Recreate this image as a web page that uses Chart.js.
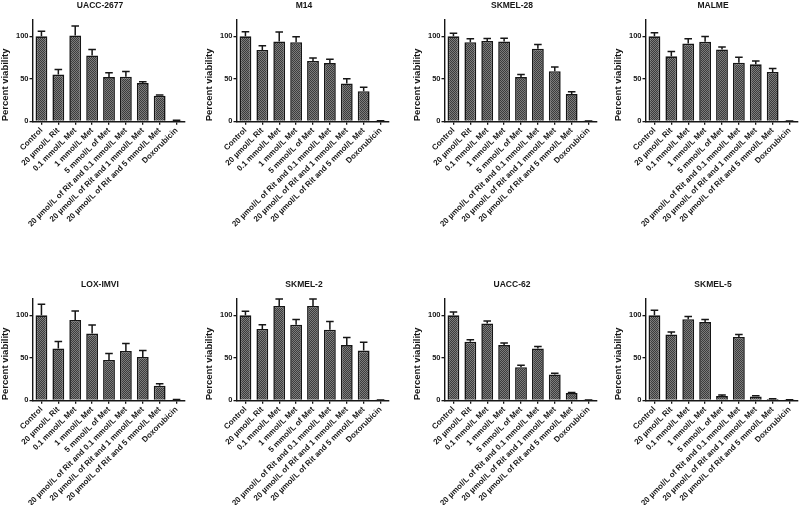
<!DOCTYPE html>
<html>
<head>
<meta charset="utf-8">
<script src="https://cdn.jsdelivr.net/npm/chart.js@4.4.1/dist/chart.umd.min.js"></script>
<style>
  html, body { margin: 0; padding: 0; background: #fff; overflow: hidden; }
  body { width: 800px; height: 505px; position: relative; }
  .panel { position: absolute; width: 200px; height: 250px; }
</style>
</head>
<body>
<div id="grid"></div>
<script>
/* ---------- DATA ---------- */
const TREATMENTS = [
  'Control',
  '20 µmol/L Rit',
  '0.1 mmol/L Met',
  '1 mmol/L Met',
  '5 mmol/L of Met',
  '20 µmol/L of Rit and 0.1 mmol/L Met',
  '20 µmol/L of Rit and 1 mmol/L Met',
  '20 µmol/L of Rit and 5 mmol/L Met',
  'Doxorubicin'
];
const Y_TICKS = [0, 50, 100];
const Y_MAX = 120;

const UACC2677     = [100, 55, 101, 77.5, 52, 52.5, 45, 30, 0.8];
const UACC2677_ERR = [6, 6, 11, 7, 5, 6, 1.5, 1, 0.4];
const M14          = [100, 84, 94, 93, 71, 68.5, 44.5, 35.5, 0.3];
const M14_ERR      = [5.5, 5, 11, 6.5, 3.5, 4.5, 5.5, 4.7, 0.3];
const SKMEL28      = [100, 93, 94.5, 94, 52, 85.5, 59, 32, 0.3];
const SKMEL28_ERR  = [3.5, 4, 3, 3.6, 3, 5, 5, 2.8, 0.2];
const MALME        = [100, 76.5, 91.5, 93.5, 84.5, 69, 67, 58, 0.3];
const MALME_ERR    = [4.3, 5.5, 5.5, 6.3, 3, 6.3, 4, 4, 0.2];
const LOXIMVI      = [100, 61, 94.5, 78.5, 47.5, 58, 51, 17, 0.6];
const LOXIMVI_ERR  = [13, 8.3, 10.5, 10, 7.5, 8.7, 7.5, 2.4, 0.4];
const SKMEL2       = [100, 84, 111, 89, 111, 83, 65, 58.5, 0.3];
const SKMEL2_ERR   = [4.7, 5, 8.2, 6, 8.2, 9.8, 9, 9.8, 0.2];
const UACC62       = [100, 69, 90.5, 65, 39, 61, 30.5, 8.5, 0.3];
const UACC62_ERR   = [3.9, 2.3, 2.7, 2.3, 2.3, 2.3, 1.2, 0.8, 0.2];
const SKMEL5       = [100, 77.5, 95.5, 92, 5, 74.5, 4.5, 1.5, 0.4];
const SKMEL5_ERR   = [5.9, 2.8, 3.1, 3.1, 1.2, 2.8, 0.8, 0.4, 0.2];

const PANELS = [
  { title: 'UACC-2677', mean: UACC2677, err: UACC2677_ERR },
  { title: 'M14',       mean: M14,      err: M14_ERR },
  { title: 'SKMEL-28',  mean: SKMEL28,  err: SKMEL28_ERR },
  { title: 'MALME',     mean: MALME,    err: MALME_ERR },
  { title: 'LOX-IMVI',  mean: LOXIMVI,  err: LOXIMVI_ERR },
  { title: 'SKMEL-2',   mean: SKMEL2,   err: SKMEL2_ERR },
  { title: 'UACC-62',   mean: UACC62,   err: UACC62_ERR },
  { title: 'SKMEL-5',   mean: SKMEL5,   err: SKMEL5_ERR }
];

/* ---------- LAYOUT / STYLE ---------- */
const PANEL_LEFT = [0, 204, 412, 613];
const PANEL_TOP  = [0, 279];
const INK  = '#161616';
const FONT = "'Liberation Sans', Arial, sans-serif";

// textured gray fill like the original bars
function makeHatch() {
  const c = document.createElement('canvas');
  c.width = 2; c.height = 2;
  const g = c.getContext('2d');
  g.fillStyle = '#7c7c7c';
  g.fillRect(0, 0, 2, 2);
  g.fillStyle = '#3c3c3c';
  g.fillRect(0, 0, 1, 1);
  g.fillRect(1, 1, 1, 1);
  return g.createPattern(c, 'repeat');
}

// upper error bar (T shape)
const errorBars = {
  id: 'errorBars',
  afterDatasetsDraw(chart) {
    const { ctx, scales: { y } } = chart;
    const ds = chart.data.datasets[0];
    const meta = chart.getDatasetMeta(0);
    ctx.save();
    ctx.strokeStyle = INK;
    ctx.lineWidth = 1.5;
    meta.data.forEach((bar, i) => {
      const top = y.getPixelForValue(ds.data[i] + ds.errors[i]);
      const half = bar.width * 0.32;
      ctx.beginPath();
      ctx.moveTo(bar.x, bar.y);
      ctx.lineTo(bar.x, top);
      ctx.moveTo(bar.x - half, top);
      ctx.lineTo(bar.x + half, top);
      ctx.stroke();
    });
    ctx.restore();
  }
};

const hatch = makeHatch();
const axisGrid = { display: true, drawOnChartArea: false, offset: false, tickLength: 3.5, color: INK, lineWidth: 1.3 };

PANELS.forEach((p, idx) => {
  const div = document.createElement('div');
  div.className = 'panel';
  div.style.left = PANEL_LEFT[idx % 4] + 'px';
  div.style.top = PANEL_TOP[Math.floor(idx / 4)] + 'px';
  const canvas = document.createElement('canvas');
  canvas.width = 200; canvas.height = 250;
  div.appendChild(canvas);
  document.getElementById('grid').appendChild(div);

  new Chart(canvas, {
    type: 'bar',
    data: {
      labels: TREATMENTS,
      datasets: [{
        data: p.mean,
        errors: p.err,
        backgroundColor: hatch,
        borderColor: INK,
        borderWidth: 1.6,
        barPercentage: 0.7,
        categoryPercentage: 1
      }]
    },
    options: {
      responsive: false,
      animation: false,
      events: [],
      layout: { padding: 0 },
      plugins: {
        legend: { display: false },
        tooltip: { enabled: false },
        title: {
          display: true, text: p.title, color: INK,
          font: { family: FONT, size: 8.5, weight: 'bold' },
          padding: { top: 0.2, bottom: 8.9 }
        }
      },
      scales: {
        x: {
          grid: axisGrid,
          border: { color: INK, width: 1.4 },
          ticks: {
            autoSkip: false, maxRotation: 45, minRotation: 45, padding: 1, color: INK,
            font: { family: FONT, size: 8, weight: 'bold' }
          },
          afterFit: s => { s.height = 128.7; }
        },
        y: {
          min: 0, max: Y_MAX,
          afterBuildTicks: s => { s.ticks = Y_TICKS.map(v => ({ value: v })); },
          grid: axisGrid,
          border: { color: INK, width: 1.4 },
          ticks: { padding: 1, color: INK, font: { family: FONT, size: 7.5, weight: 'bold' } },
          title: {
            display: true, text: 'Percent viability', align: 'start', color: INK,
            padding: 0, font: { family: FONT, size: 9.5, weight: 'bold' }
          },
          afterFit: s => { s.width = 33; }
        },
        // empty right axis, keeps the title centred on the whole panel
        pad: {
          type: 'linear', position: 'right', display: true,
          grid: { display: false }, border: { display: false }, ticks: { display: false },
          afterFit: s => { s.width = 15; }
        }
      }
    },
    plugins: [errorBars]
  });
});
</script>
</body>
</html>
